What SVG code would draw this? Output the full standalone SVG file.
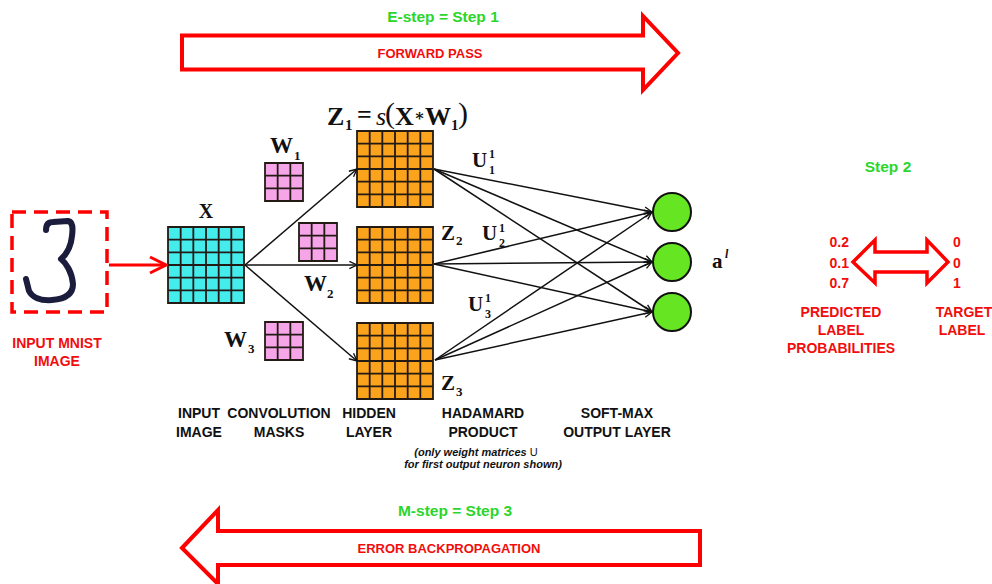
<svg xmlns="http://www.w3.org/2000/svg" xmlns:xlink="http://www.w3.org/1999/xlink" width="992" height="584" viewBox="0 0 992 584">
  <style>
    .lbl { font-family: "Liberation Sans", Arial, sans-serif; font-weight: bold; font-size: 14px; fill: #111; text-anchor: middle; }
    .red { fill: #f20d0d; }
    .grn { fill: #2bd62b; font-size: 15.5px; }
    .f13 { font-size: 13px; }
    .end { text-anchor: end; }
    .start { text-anchor: start; }
    .note { font-size: 11px; font-style: italic; }
    .math { font-family: "Liberation Serif", "DejaVu Serif", serif; font-weight: bold; fill: #111; }
    .grid { fill: none; stroke: #231a14; stroke-width: 1.8; }
    .big-arrow { fill: #fff; stroke: #f00; stroke-width: 4; stroke-linejoin: miter; }
    .conn { fill: none; stroke: #111; stroke-width: 1.5; marker-end: url(#ah); }
    .neuron { fill: #66e522; stroke: #111; stroke-width: 2; }
  </style>
  <defs>
    <marker id="ah" viewBox="0 0 10 10" refX="9.5" refY="5" markerWidth="9" markerHeight="9" markerUnits="userSpaceOnUse" orient="auto">
      <path d="M1 1 L9.5 5 L1 9" fill="none" stroke="#111" stroke-width="1.5"/>
    </marker>
    <marker id="ahRed" viewBox="0 0 20 20" refX="18" refY="10" markerWidth="20" markerHeight="20" markerUnits="userSpaceOnUse" orient="auto">
      <path d="M2 2 L18 10 L2 18" fill="none" stroke="#f00" stroke-width="3"/>
    </marker>
    <!-- 6x6 feature-map grid, 76 px square -->
    <path id="grid6" d="M0 0H76V76H0Z M12.67 0V76 M25.33 0V76 M38 0V76 M50.67 0V76 M63.33 0V76 M0 12.67H76 M0 25.33H76 M0 38H76 M0 50.67H76 M0 63.33H76"/>
    <!-- 3x3 convolution mask, 38 px square -->
    <path id="grid3" d="M0 0H38V38H0Z M12.67 0V38 M25.33 0V38 M0 12.67H38 M0 25.33H38"/>
    <filter id="soft" x="-10%" y="-10%" width="120%" height="120%">
      <feGaussianBlur stdDeviation="0.7"/>
    </filter>
  </defs>

  <rect width="992" height="584" fill="#fff"/>

  <!-- forward pass banner -->
  <g id="forward-pass">
    <text class="lbl grn" x="443" y="22">E-step = Step 1</text>
    <path class="big-arrow" d="M182 35.5 L643 35.5 L643 16 L678 53 L643 90 L643 69.5 L182 69.5 Z"/>
    <text class="lbl red f13" x="430" y="58">FORWARD PASS</text>
  </g>

  <!-- input digit -->
  <g id="input-mnist">
    <rect x="12" y="212" width="95" height="100" fill="none" stroke="#f00" stroke-width="3.5" stroke-dasharray="14 8"/>
    <path d="M46 230 C46 225 48 222 53 222 L68 221 C73 222 73 228 72 236 C71 246 68 253 61 259 C66 263 72 272 73 284 C73 294 66 299 52 300 C40 301 32 297 29 291 L26 279" fill="none" stroke="#1b1b3e" stroke-width="6" stroke-linecap="round" stroke-linejoin="round" filter="url(#soft)"/>
    <text class="lbl red" x="57" y="348">INPUT MNIST</text>
    <text class="lbl red" x="57" y="366">IMAGE</text>
  </g>

  <!-- input feature map X -->
  <g id="input-x">
    <rect x="168" y="227" width="76" height="76" fill="#45ecec"/>
    <use xlink:href="#grid6" href="#grid6" x="168" y="227" class="grid"/>
    <text class="math" x="206" y="218" font-size="20" text-anchor="middle">X</text>
  </g>

  <!-- convolution masks -->
  <g id="mask-w1">
    <rect x="265" y="163" width="38" height="38" fill="#f5a5e8"/>
    <use xlink:href="#grid3" href="#grid3" x="265" y="163" class="grid"/>
    <text class="math" x="270" y="153" font-size="23">W<tspan x="294" y="160" font-size="13">1</tspan></text>
  </g>
  <g id="mask-w2">
    <rect x="299" y="223" width="38" height="38" fill="#f5a5e8"/>
    <use xlink:href="#grid3" href="#grid3" x="299" y="223" class="grid"/>
    <text class="math" x="304" y="291" font-size="23">W<tspan x="327" y="298" font-size="13">2</tspan></text>
  </g>
  <g id="mask-w3">
    <rect x="265" y="322" width="38" height="38" fill="#f5a5e8"/>
    <use xlink:href="#grid3" href="#grid3" x="265" y="322" class="grid"/>
    <text class="math" x="224" y="347" font-size="23">W<tspan x="248" y="353" font-size="13">3</tspan></text>
  </g>

  <!-- hidden layer feature maps -->
  <g id="hidden-z1">
    <rect x="357" y="131" width="76" height="76" fill="#fca31e"/>
    <use xlink:href="#grid6" href="#grid6" x="357" y="131" class="grid"/>
    <text class="math" x="327" y="125" font-size="26">Z<tspan x="345" y="130" font-size="15">1</tspan><tspan x="357" y="123">=</tspan><tspan x="376" y="125" font-style="italic" font-weight="normal">s</tspan><tspan x="385" y="123" font-size="30" font-weight="normal">(</tspan><tspan x="395" y="125">X</tspan><tspan x="414" y="121" font-family="'DejaVu Serif', serif" font-size="16">∗</tspan><tspan x="425" y="125">W</tspan><tspan x="451" y="130" font-size="15">1</tspan><tspan x="458" y="123" font-size="30" font-weight="normal">)</tspan></text>
  </g>
  <g id="hidden-z2">
    <rect x="357" y="227" width="76" height="76" fill="#fca31e"/>
    <use xlink:href="#grid6" href="#grid6" x="357" y="227" class="grid"/>
    <text class="math" x="441" y="240" font-size="21">Z<tspan x="456" y="245" font-size="13">2</tspan></text>
  </g>
  <g id="hidden-z3">
    <rect x="357" y="323" width="76" height="76" fill="#fca31e"/>
    <use xlink:href="#grid6" href="#grid6" x="357" y="323" class="grid"/>
    <text class="math" x="441" y="390" font-size="21">Z<tspan x="456" y="396" font-size="13">3</tspan></text>
  </g>

  <!-- soft-max output neurons -->
  <g id="out-1"><circle class="neuron" cx="672" cy="212" r="19"/></g>
  <g id="out-2"><circle class="neuron" cx="672" cy="262" r="19"/></g>
  <g id="out-3"><circle class="neuron" cx="672" cy="312" r="19"/></g>
  <g id="out-label">
    <text class="math" x="712" y="268" font-size="21">a<tspan x="725" y="258" font-size="12" font-style="italic">l</tspan></text>
  </g>

  <!-- connectors -->
  <g id="connectors">
    <line x1="109" y1="265" x2="166" y2="265" stroke="#f00" stroke-width="3" marker-end="url(#ahRed)"/>
    <path class="conn" d="M245 265 L357 169"/>
    <path class="conn" d="M245 265 L357 265"/>
    <path class="conn" d="M245 265 L357 361"/>
    <path class="conn" d="M434 169 L652 212"/>
    <path class="conn" d="M434 169 L652 262"/>
    <path class="conn" d="M434 169 L652 312"/>
    <path class="conn" d="M434 264 L652 212"/>
    <path class="conn" d="M434 264 L652 262"/>
    <path class="conn" d="M434 264 L652 312"/>
    <path class="conn" d="M435 360 L652 212"/>
    <path class="conn" d="M435 360 L652 262"/>
    <path class="conn" d="M435 360 L652 312"/>
  </g>

  <!-- weight matrix labels -->
  <g id="u-labels">
    <text class="math" x="472" y="167" font-size="21">U<tspan x="489" y="158" font-size="12">1</tspan><tspan x="489" y="174" font-size="12">1</tspan></text>
    <text class="math" x="482" y="240" font-size="21">U<tspan x="499" y="232" font-size="12">1</tspan><tspan x="499" y="247" font-size="12">2</tspan></text>
    <text class="math" x="468" y="311" font-size="21">U<tspan x="485" y="302" font-size="12">1</tspan><tspan x="485" y="318" font-size="12">3</tspan></text>
  </g>

  <!-- column captions -->
  <g id="captions">
    <text class="lbl" x="199" y="418">INPUT</text>
    <text class="lbl" x="199" y="437">IMAGE</text>
    <text class="lbl" x="279" y="418">CONVOLUTION</text>
    <text class="lbl" x="279" y="437">MASKS</text>
    <text class="lbl" x="369" y="418">HIDDEN</text>
    <text class="lbl" x="369" y="437">LAYER</text>
    <text class="lbl" x="483" y="418">HADAMARD</text>
    <text class="lbl" x="483" y="437">PRODUCT</text>
    <text class="lbl note" x="476" y="456">(only weight matrices <tspan font-style="normal" font-weight="normal">U</tspan></text>
    <text class="lbl note" x="483" y="468">for first output neuron shown)</text>
    <text class="lbl" x="617" y="418">SOFT-MAX</text>
    <text class="lbl" x="617" y="437">OUTPUT LAYER</text>
  </g>

  <!-- loss comparison -->
  <g id="compare">
    <text class="lbl grn" x="888" y="172">Step 2</text>
    <path d="M853 262 L875 240 L875 252 L927 252 L927 240 L948 262 L927 283 L927 272 L875 272 L875 283 Z" fill="#fff" stroke="#f00" stroke-width="3.5"/>
    <text class="lbl red end" x="849" y="247">0.2</text>
    <text class="lbl red end" x="849" y="268">0.1</text>
    <text class="lbl red end" x="849" y="288">0.7</text>
    <text class="lbl red start" x="953" y="247">0</text>
    <text class="lbl red start" x="953" y="268">0</text>
    <text class="lbl red start" x="953" y="288">1</text>
    <text class="lbl red" x="841" y="317">PREDICTED</text>
    <text class="lbl red" x="841" y="335">LABEL</text>
    <text class="lbl red" x="841" y="353">PROBABILITIES</text>
    <text class="lbl red" x="964" y="317">TARGET</text>
    <text class="lbl red" x="962" y="335">LABEL</text>
  </g>

  <!-- backpropagation banner -->
  <g id="backprop">
    <text class="lbl grn" x="455" y="516">M-step = Step 3</text>
    <path class="big-arrow" d="M182 548 L218 510 L218 531 L700 531 L700 565 L218 565 L218 584 Z"/>
    <text class="lbl red f13" x="449" y="553">ERROR BACKPROPAGATION</text>
  </g>
</svg>
